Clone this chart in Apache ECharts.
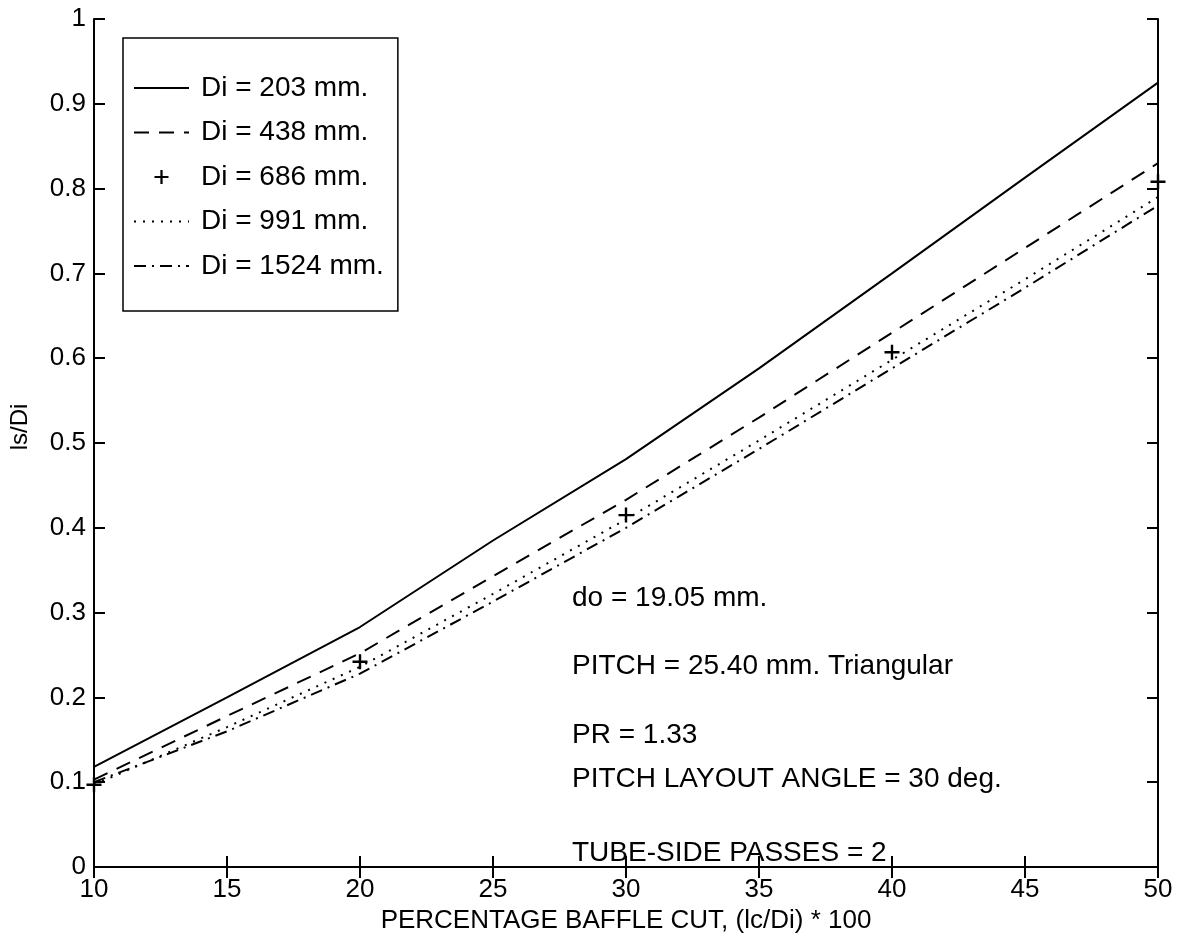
<!DOCTYPE html>
<html>
<head>
<meta charset="utf-8">
<script src="https://cdn.jsdelivr.net/npm/echarts@6/dist/echarts.min.js"></script>
<style>
  html, body { margin: 0; padding: 0; background: #fff; }
  #main { width: 1189px; height: 940px; }
</style>
</head>
<body>
<div id="main"></div>
<script>
// baffle cut (%) and ls/Di
var cut = [10, 15, 20, 25, 30, 35, 40, 45, 50];
var di203 = [0.118, 0.200, 0.283, 0.385, 0.481, 0.588, 0.700, 0.813, 0.925];
var di438 = [0.103, 0.178, 0.252, 0.343, 0.433, 0.530, 0.630, 0.730, 0.830];
var cut686 = [10, 20, 30, 40, 50];
var di686 = [0.097, 0.242, 0.415, 0.607, 0.808];
var di991 = [0.097, 0.165, 0.236, 0.322, 0.410, 0.503, 0.598, 0.693, 0.790];
var di1524 = [0.100, 0.160, 0.228, 0.313, 0.400, 0.493, 0.588, 0.683, 0.780];
var names = ['Di = 203 mm.', 'Di = 438 mm.', 'Di = 686 mm.', 'Di = 991 mm.', 'Di = 1524 mm.'];
var notes = [
    'do = 19.05 mm.',
    'PITCH = 25.40 mm. Triangular',
    'PR = 1.33',
    'PITCH LAYOUT ANGLE = 30 deg.',
    'TUBE-SIDE PASSES = 2'
];
var noteTops = [584, 652, 721, 765, 839];

var font = "'Liberation Sans', Arial, sans-serif";
var plus = 'path://M0.42,0H0.58V0.42H1V0.58H0.58V1H0.42V0.58H0V0.42H0.42Z';

function pairs(xs, ys) {
    return xs.map(function (x, i) { return [x, ys[i]]; });
}

function lineSeries(name, ys, dash) {
    return {
        name: name,
        type: 'line',
        xAxisIndex: 0,
        yAxisIndex: 0,
        data: pairs(cut, ys),
        symbol: 'none',
        silent: true,
        itemStyle: { color: '#000' },
        lineStyle: { color: '#000', width: 2, type: dash }
    };
}

var axisLine = { show: true, lineStyle: { color: '#000', width: 2 } };
var tick = { show: true, inside: true, length: 11, lineStyle: { color: '#000', width: 2 } };

var myChart = echarts.init(document.getElementById('main'));
var option = {
    backgroundColor: '#fff',
    animation: false,
    color: ['#000'],
    grid: { left: 90, right: 31, top: 19, bottom: 73 },
    legend: {
        orient: 'vertical',
        left: 123,
        top: 38,
        padding: [36, 14, 31, 10],
        itemWidth: 55,
        itemHeight: 14,
        itemGap: 16.5,
        backgroundColor: '#fff',
        borderColor: '#000',
        borderWidth: 1.5,
        borderRadius: 0,
        selectedMode: false,
        textStyle: { fontFamily: font, fontSize: 28, lineHeight: 28, color: '#000', padding: [0, 0, 0, 7] },
        data: names.map(function (n, i) {
            return i === 2 ? { name: n, itemStyle: { opacity: 1 } } : { name: n, itemStyle: { opacity: 0 } };
        })
    },
    xAxis: [
        {
            type: 'value', position: 'bottom', min: 10, max: 50, interval: 5,
            name: 'PERCENTAGE BAFFLE CUT, (lc/Di) * 100',
            nameLocation: 'middle', nameGap: 40,
            nameTextStyle: { fontFamily: font, fontSize: 26, color: '#000' },
            axisLine: axisLine, axisTick: tick, splitLine: { show: false },
            axisLabel: { margin: 10, fontFamily: font, fontSize: 26, color: '#000' }
        },
        {
            type: 'value', position: 'top', min: 10, max: 50, interval: 5,
            axisLine: axisLine, axisTick: tick, splitLine: { show: false },
            axisLabel: { show: false }
        }
    ],
    yAxis: [
        {
            type: 'value', position: 'left', min: 0, max: 1, interval: 0.1,
            name: 'ls/Di', nameLocation: 'middle', nameGap: 62,
            nameTextStyle: { fontFamily: font, fontSize: 24, color: '#000', padding: [0, 0, 0, 32] },
            axisLine: axisLine, axisTick: tick, splitLine: { show: false },
            axisLabel: {
                margin: 8, fontFamily: font, fontSize: 26, color: '#000',
                formatter: function (v) {
                    if (v === 0 || v === 1) return String(v);
                    return v.toFixed(1);
                }
            }
        },
        {
            type: 'value', position: 'right', min: 0, max: 1, interval: 0.1,
            axisLine: axisLine, axisTick: tick, splitLine: { show: false },
            axisLabel: { show: false }
        }
    ],
    graphic: notes.map(function (t, i) {
        return {
            type: 'text', left: 572, top: noteTops[i], silent: true,
            style: { text: t, fill: '#000', font: '28px ' + font }
        };
    }),
    series: [
        lineSeries(names[0], di203, 'solid'),
        lineSeries(names[1], di438, [15, 10]),
        {
            name: names[2],
            type: 'scatter',
            xAxisIndex: 0,
            yAxisIndex: 0,
            data: pairs(cut686, di686),
            symbol: plus,
            symbolSize: 15,
            silent: true,
            itemStyle: { color: '#000', opacity: 1 }
        },
        lineSeries(names[3], di991, [2, 7]),
        lineSeries(names[4], di1524, [12, 6, 2, 6])
    ]
};
myChart.setOption(option);
</script>
</body>
</html>
